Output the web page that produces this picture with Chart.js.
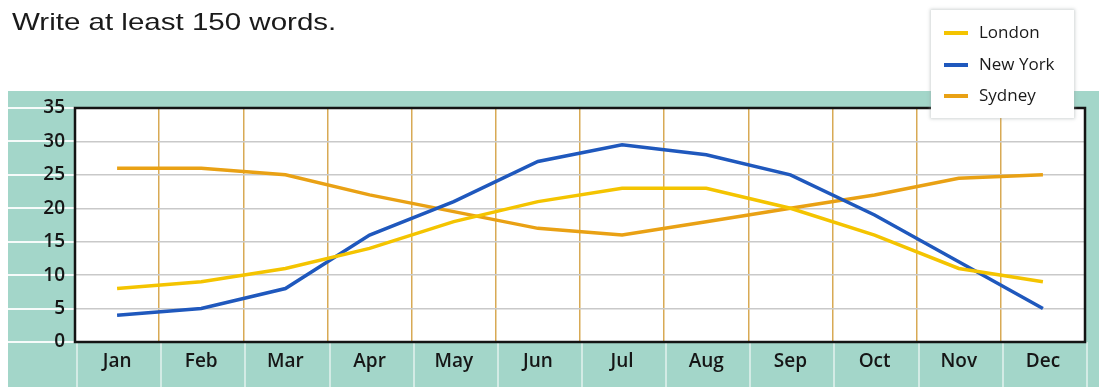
<!DOCTYPE html>
<html>
<head>
<meta charset="utf-8">
<script src="https://cdn.jsdelivr.net/npm/chart.js@4"></script>
<style>
    html, body { margin: 0; padding: 0; background: #fff; }
    #wrap { position: relative; width: 1099px; height: 387px; overflow: hidden; }
    #task {
        position: absolute; left: 12px; top: 8px;
        font-family: "Liberation Sans", Arial, sans-serif; font-size: 24px; color: #1a1a1a;
        transform: scaleX(1.23); transform-origin: left top; white-space: nowrap;
    }
    #legend {
        position: absolute; left: 931px; top: 10px; width: 143px; height: 108px;
        background: #fff; box-shadow: 0 0 3px 1px rgba(150, 160, 160, 0.45);
        font-family: "Open Sans", sans-serif; font-size: 17px; color: #1a1a1a;
    }
    #legend .row { position: absolute; left: 13px; height: 24px; line-height: 24px; white-space: nowrap; }
    #legend .swatch { display: inline-block; width: 24px; height: 4px; vertical-align: middle; margin-right: 11px; }
</style>
</head>
<body>
<div id="wrap">
    <canvas id="myLineChart" width="1099" height="387"></canvas>
    <div id="task">Write at least 150 words.</div>
    <div id="legend"></div>
</div>
<script>
// monthly temperatures
const months = ["Jan", "Feb", "Mar", "Apr", "May", "Jun", "Jul", "Aug", "Sep", "Oct", "Nov", "Dec"];
const london = [8, 9, 11, 14, 18, 21, 23, 23, 20, 16, 11, 9];
const newYork = [4, 5, 8, 16, 21, 27, 29.5, 28, 25, 19, 12, 5];
const sydney = [26, 26, 25, 22, 19.5, 17, 16, 18, 20, 22, 24.5, 25];
const yTicks = [0, 5, 10, 15, 20, 25, 30, 35];

const TEAL = '#a3d6c9';

const getChartData = () => {
    const line = (label, data, color) => ({
        label: label,
        data: data,
        borderColor: color,
        backgroundColor: color,
        borderWidth: 3.5,
        pointRadius: 0,
        tension: 0,
        fill: false
    });
    return {
        labels: months,
        datasets: [
            line('London', london, '#f4c400'),
            line('New York', newYork, '#1f58bd'),
            line('Sydney', sydney, '#e9a114')
        ]
    };
};

// teal band behind the plot, with white stripes at ticks and month boundaries
const bandPlugin = {
    id: 'band',
    beforeDraw(chart) {
        const { ctx, chartArea: a, scales } = chart;
        ctx.save();
        ctx.fillStyle = TEAL;
        ctx.fillRect(8, 91, chart.width - 8, chart.height - 91);
        ctx.fillStyle = '#fff';
        ctx.fillRect(a.left, a.top, a.right - a.left, a.bottom - a.top);

        ctx.strokeStyle = 'rgba(255,255,255,0.9)';
        ctx.lineWidth = 2;
        yTicks.forEach(v => {
            const y = Math.round(scales.y.getPixelForValue(v));
            ctx.beginPath();
            ctx.moveTo(8, y);
            ctx.lineTo(a.left, y);
            ctx.stroke();
        });
        ctx.strokeStyle = 'rgba(255,255,255,0.7)';
        ctx.lineWidth = 1.5;
        const step = (a.right - a.left) / months.length;
        for (let i = 0; i <= months.length; i++) {
            const x = Math.round(scales.x.getPixelForValue(i) - step / 2) + 2;
            ctx.beginPath();
            ctx.moveTo(x, a.bottom);
            ctx.lineTo(x, chart.height);
            ctx.stroke();
        }
        ctx.restore();
    },
    afterDatasetsDraw(chart) {
        const { ctx, chartArea: a } = chart;
        ctx.save();
        ctx.strokeStyle = '#141414';
        ctx.lineWidth = 2.5;
        ctx.strokeRect(a.left, a.top, a.right - a.left, a.bottom - a.top);
        ctx.restore();
    }
};

const tickFont = { family: 'Open Sans', size: 19, weight: '600' };

const getChartOptions = () => ({
    responsive: false,
    animation: false,
    layout: { padding: { top: 108, right: 14, left: 0, bottom: 0 } },
    plugins: { legend: { display: false }, title: { display: false }, tooltip: { enabled: false } },
    scales: {
        x: {
            offset: true,
            grid: { offset: true, color: '#d8aa55', lineWidth: 1.5, drawTicks: false },
            border: { display: false },
            ticks: { color: '#161616', font: tickFont, padding: 8, maxRotation: 0 },
            afterFit(scale) { scale.height = 45; }
        },
        y: {
            min: 0,
            max: 35,
            grid: { color: '#c9c9c9', lineWidth: 1.5, drawTicks: false },
            border: { display: false },
            ticks: { stepSize: 5, color: '#161616', font: tickFont, padding: 10 },
            afterFit(scale) { scale.width = 75; }
        }
    }
});

const chartData = getChartData();
const ctx = document.getElementById('myLineChart');
new Chart(ctx, {
    type: 'line',
    data: chartData,
    options: getChartOptions(),
    plugins: [bandPlugin]
});

// legend box built from the datasets
const legendEl = document.getElementById('legend');
chartData.datasets.forEach((ds, i) => {
    const row = document.createElement('div');
    row.className = 'row';
    row.style.top = (10 + i * 31.5) + 'px';
    row.innerHTML = '<span class="swatch" style="background:' + ds.borderColor + '"></span>' + ds.label;
    legendEl.appendChild(row);
});
</script>
</body>
</html>
